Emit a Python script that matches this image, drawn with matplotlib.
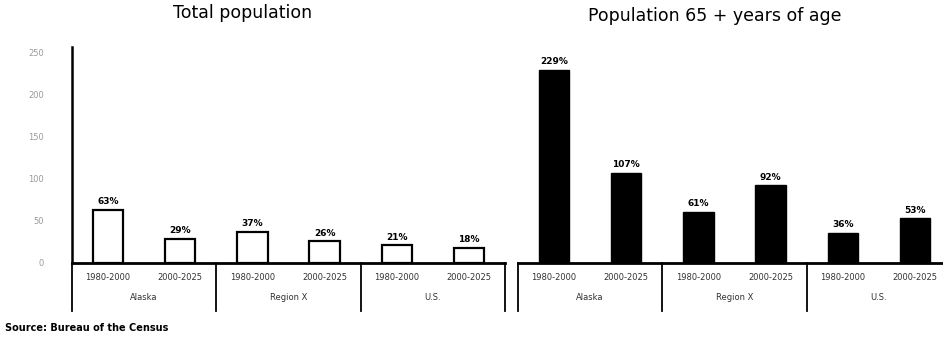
import matplotlib
matplotlib.use('Agg')
import matplotlib.pyplot as plt
import matplotlib.transforms as mtransforms

# data
periods = ['1980-2000', '2000-2025']
regions = ['Alaska', 'Region X', 'U.S.']
total_pop = [63, 29, 37, 26, 21, 18]
pop_65 = [229, 107, 61, 92, 36, 53]
yticks = [0, 50, 100, 150, 200, 250]

fig = plt.figure(figsize=(9.43, 3.38), dpi=100)

W, H = 943, 338
def box(x0, y_top, x1, y_bot):
    return [x0 / W, (H - y_bot) / H, (x1 - x0) / W, (y_bot - y_top) / H]

ax1 = fig.add_axes(box(72, 47, 505, 263))
ax2 = fig.add_axes(box(518, 47, 951, 263))

label_y = -0.065
group_y = -0.16
sep_bottom = -0.22

for ax, vals, filled in [(ax1, total_pop, False), (ax2, pop_65, True)]:
    x = list(range(len(vals)))
    if filled:
        ax.bar(x, vals, width=0.42, color='black', edgecolor='black')
    else:
        ax.bar(x, vals, width=0.42, color='white', edgecolor='black', linewidth=1.6)
    for xi, v in zip(x, vals):
        ax.text(xi, v + 4, f'{v}%', ha='center', va='bottom', fontsize=6.5,
                fontweight='bold')
    ax.set_xlim(-0.5, 5.5)
    ax.set_ylim(0, 256)
    ax.set_xticks([])
    for s in ['top', 'right']:
        ax.spines[s].set_visible(False)
    ax.spines['bottom'].set_linewidth(2)

    trans = mtransforms.blended_transform_factory(ax.transData, ax.transAxes)
    for i in range(len(vals)):
        ax.text(i, label_y, periods[i % 2], transform=trans, ha='center',
                va='center', fontsize=6, color='#333333')
    for g, name in enumerate(regions):
        ax.text(2 * g + 0.5, group_y, name, transform=trans, ha='center',
                va='center', fontsize=6, color='#333333')
    for xs in [-0.5, 1.5, 3.5, 5.5]:
        ax.plot([xs, xs], [0, sep_bottom], transform=trans, color='black',
                linewidth=1.3, clip_on=False)

ax1.set_yticks(yticks)
ax1.set_yticklabels([str(t) for t in yticks], fontsize=6, color='#999999')
ax1.tick_params(axis='y', length=0, pad=20)
ax1.spines['left'].set_linewidth(1.8)

ax2.set_yticks([])
ax2.spines['left'].set_visible(False)

fig.text(243 / W, 1 - 13 / H, 'Total population', ha='center', va='center',
         fontsize=12.5)
fig.text(715 / W, 1 - 16 / H, 'Population 65 + years of age', ha='center',
         va='center', fontsize=12.5)
fig.text(5 / W, 1 - 328 / H, 'Source: Bureau of the Census', ha='left',
         va='center', fontsize=7, fontweight='bold')

plt.savefig('out.png', dpi=100)
